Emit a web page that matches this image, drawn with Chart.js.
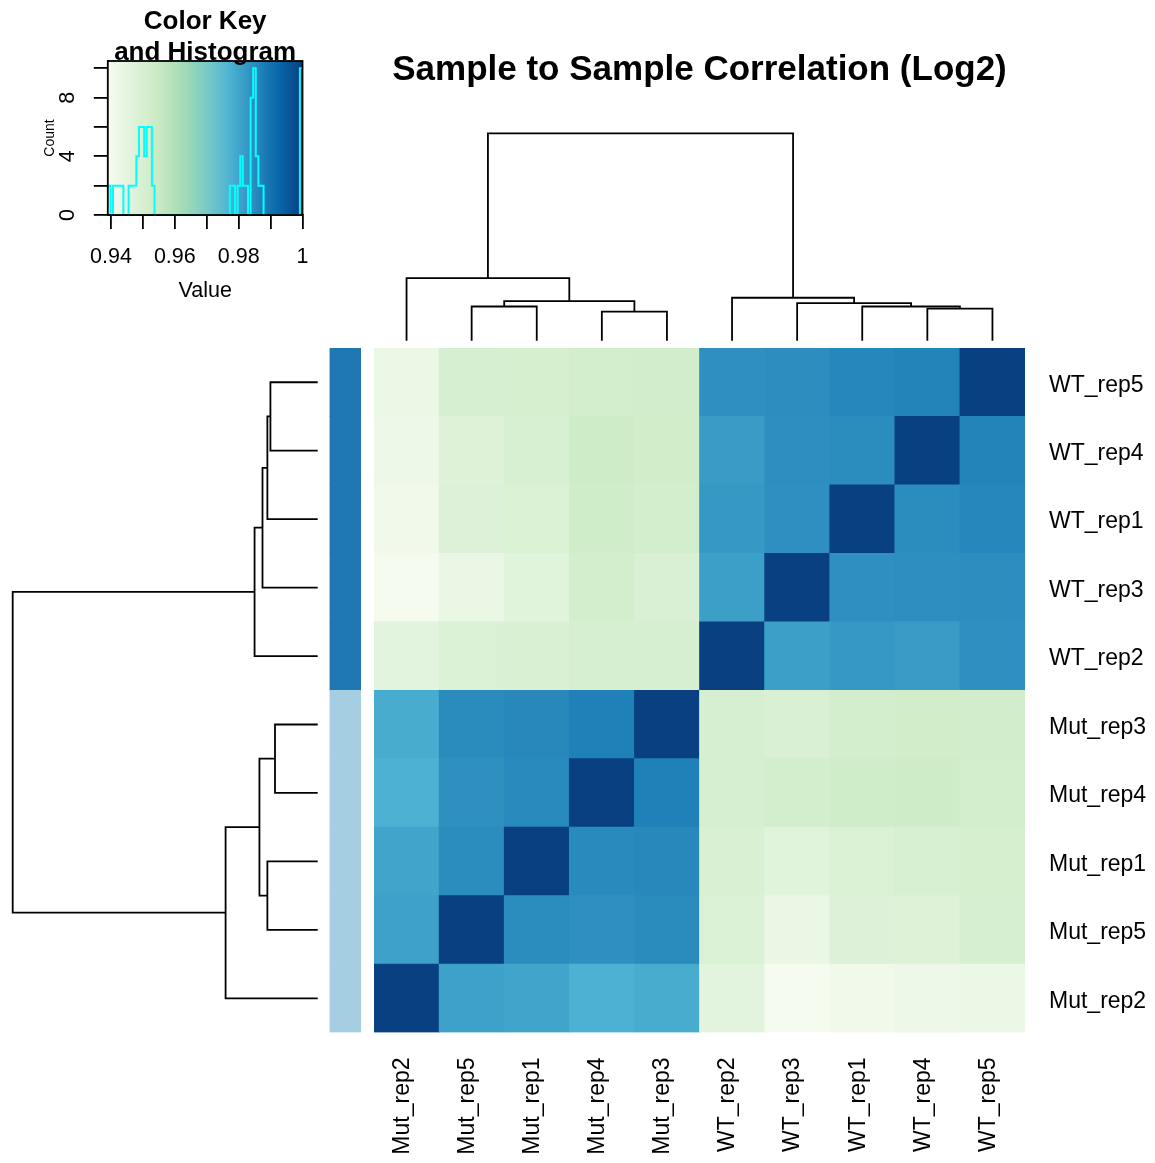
<!DOCTYPE html>
<html>
<head>
<meta charset="utf-8">
<title>Sample to Sample Correlation (Log2)</title>
<script src="https://cdn.jsdelivr.net/npm/chart.js@4.4.1/dist/chart.umd.min.js"></script>
<style>
  html, body { margin: 0; padding: 0; background: #ffffff; }
  #wrap { position: relative; width: 1155px; height: 1163px; overflow: hidden; background: #ffffff; }
  #wrap canvas { position: absolute; left: 0; top: 0; }
</style>
</head>
<body>
<div id="wrap">
  <canvas id="keyChart" width="1155" height="1163"></canvas>
  <canvas id="colDendro" width="1155" height="1163"></canvas>
  <canvas id="rowDendro" width="1155" height="1163"></canvas>
  <canvas id="sideBar" width="1155" height="1163"></canvas>
  <canvas id="heatmap" width="1155" height="1163"></canvas>
</div>
<script>
// Samples in clustered order: columns left to right, rows bottom to top
const samples = ['Mut_rep2', 'Mut_rep5', 'Mut_rep1', 'Mut_rep4', 'Mut_rep3',
                 'WT_rep2', 'WT_rep3', 'WT_rep1', 'WT_rep4', 'WT_rep5'];
const sampleGroup = ['Mut', 'Mut', 'Mut', 'Mut', 'Mut', 'WT', 'WT', 'WT', 'WT', 'WT'];
const groupColors = { Mut: '#a6cee3', WT: '#1f78b4' };

// Pearson correlation of log2 expression, one row per sample (same column order)
const corMut_rep2 = [1.0000, 0.9807, 0.9800, 0.9775, 0.9785, 0.9459, 0.9395, 0.9410, 0.9420, 0.9427];
const corMut_rep5 = [0.9807, 1.0000, 0.9848, 0.9839, 0.9850, 0.9484, 0.9433, 0.9481, 0.9475, 0.9500];
const corMut_rep1 = [0.9800, 0.9848, 1.0000, 0.9851, 0.9855, 0.9494, 0.9467, 0.9490, 0.9498, 0.9509];
const corMut_rep4 = [0.9775, 0.9839, 0.9851, 1.0000, 0.9872, 0.9502, 0.9516, 0.9526, 0.9532, 0.9518];
const corMut_rep3 = [0.9785, 0.9850, 0.9855, 0.9872, 1.0000, 0.9506, 0.9491, 0.9514, 0.9524, 0.9523];
const corWT_rep2  = [0.9459, 0.9484, 0.9494, 0.9502, 0.9506, 1.0000, 0.9810, 0.9824, 0.9818, 0.9841];
const corWT_rep3  = [0.9395, 0.9433, 0.9467, 0.9516, 0.9491, 0.9810, 1.0000, 0.9842, 0.9844, 0.9846];
const corWT_rep1  = [0.9410, 0.9481, 0.9490, 0.9526, 0.9514, 0.9824, 0.9842, 1.0000, 0.9847, 0.9858];
const corWT_rep4  = [0.9420, 0.9475, 0.9498, 0.9532, 0.9524, 0.9818, 0.9844, 0.9847, 1.0000, 0.9865];
const corWT_rep5  = [0.9427, 0.9500, 0.9509, 0.9518, 0.9523, 0.9841, 0.9846, 0.9858, 0.9865, 1.0000];
const correlation = [corMut_rep2, corMut_rep5, corMut_rep1, corMut_rep4, corMut_rep3,
                     corWT_rep2, corWT_rep3, corWT_rep1, corWT_rep4, corWT_rep5];

// Hierarchical clustering (hclust-style merges: negative = leaf number, positive = earlier merge)
const mergeLeft   = [-4, -9, -2, -8, -7, 3, -6, -1, 8];
const mergeRight  = [-5, -10, -3, 2, 4, 1, 5, 6, 7];
const mergeHeight = [0.140, 0.155, 0.165, 0.165, 0.181, 0.191, 0.207, 0.302, 1.000];

// Colour key
const gnbu = ['#f7fcf0', '#e0f3db', '#ccebc5', '#a8ddb5', '#7bccc4', '#4eb3d3', '#2b8cbe', '#0868ac', '#084081'];
const keyMin = 0.939;
const keyMax = 1.0;
const keyBins = 75;
const keyTicks = [0.94, 0.95, 0.96, 0.97, 0.98, 0.99, 1.00];
const keyLabelled = [0.94, 0.96, 0.98, 1.00];
const countTicks = [0, 2, 4, 6, 8, 10];
const countLabelled = [0, 4, 8];

const FONT = '"Liberation Sans", Arial, Helvetica, sans-serif';
Chart.defaults.font.family = FONT;
Chart.defaults.color = '#000000';

function hexToRgb(h) {
  return [parseInt(h.slice(1, 3), 16), parseInt(h.slice(3, 5), 16), parseInt(h.slice(5, 7), 16)];
}
function valueColor(v) {
  const t = Math.min(1, Math.max(0, (v - keyMin) / (keyMax - keyMin))) * (gnbu.length - 1);
  const i = Math.min(gnbu.length - 2, Math.floor(t));
  const f = t - i;
  const a = hexToRgb(gnbu[i]), b = hexToRgb(gnbu[i + 1]);
  const c = a.map((x, k) => Math.round(x + (b[k] - x) * f));
  return 'rgb(' + c.join(',') + ')';
}

// ---------- Colour key with histogram ----------
const binWidth = (keyMax - keyMin) / keyBins;
const keyBreaks = Array.from({ length: keyBins + 1 }, (_, i) => keyMin + i * binWidth);
const binCounts = new Array(keyBins).fill(0);
correlation.forEach(row => row.forEach(v => {
  const idx = Math.min(keyBins - 1, Math.max(0, Math.floor((v - keyMin) / binWidth)));
  binCounts[idx] += 1;
}));
const histPoints = keyBreaks.map((x, i) => ({ x: x, y: binCounts[Math.min(i, keyBins - 1)] }));

const keyPlugin = {
  id: 'keyDecor',
  beforeDatasetsDraw(chart) {
    const { ctx, chartArea: a, scales } = chart;
    const g = ctx.createLinearGradient(scales.x.getPixelForValue(keyMin), 0, scales.x.getPixelForValue(keyMax), 0);
    gnbu.forEach((c, i) => g.addColorStop(i / (gnbu.length - 1), c));
    ctx.save();
    ctx.fillStyle = g;
    ctx.fillRect(a.left, a.top, a.right - a.left, a.bottom - a.top);
    ctx.restore();
  },
  afterDraw(chart) {
    const { ctx, chartArea: a } = chart;
    ctx.save();
    ctx.strokeStyle = '#000000';
    ctx.lineWidth = 1.8;
    ctx.strokeRect(a.left, a.top, a.right - a.left, a.bottom - a.top);
    const cx = (a.left + a.right) / 2;
    ctx.fillStyle = '#000000';
    ctx.font = 'bold 26px ' + FONT;
    ctx.textAlign = 'center';
    ctx.textBaseline = 'middle';
    ctx.fillText('Color Key', cx, a.top - 39);
    ctx.fillText('and Histogram', cx, a.top - 8);
    ctx.restore();
  }
};

new Chart(document.getElementById('keyChart'), {
  type: 'line',
  data: {
    datasets: [{
      data: histPoints,
      stepped: 'before',
      borderColor: '#00ffff',
      borderWidth: 2,
      pointRadius: 0,
      fill: false
    }]
  },
  options: {
    responsive: false,
    animation: false,
    layout: { padding: { left: 0, top: 61, right: 852.5, bottom: 843 } },
    plugins: { legend: { display: false }, tooltip: { enabled: false } },
    scales: {
      x: {
        type: 'linear', min: keyMin, max: keyMax,
        afterBuildTicks: s => { s.ticks = keyTicks.map(v => ({ value: v })); },
        afterFit: s => { s.height = 105; },
        grid: { drawOnChartArea: false, tickLength: 14, color: '#000000', lineWidth: 1.8 },
        border: { display: true, color: '#000000', width: 1.8 },
        ticks: {
          autoSkip: false, maxRotation: 0, padding: 15.4, color: '#000000', font: { size: 21.5 },
          callback: v => keyLabelled.includes(v) ? (v === 1 ? '1' : v.toFixed(2)) : ''
        },
        title: { display: true, text: 'Value', color: '#000000', font: { size: 21.5 }, padding: { top: 0, bottom: 15.6 } }
      },
      y: {
        type: 'linear', min: 0, max: 10.5,
        afterBuildTicks: s => { s.ticks = countTicks.map(v => ({ value: v })); },
        afterFit: s => { s.width = 107.8; },
        grid: { drawOnChartArea: false, tickLength: 14, color: '#000000', lineWidth: 1.8 },
        border: { display: true, color: '#000000', width: 1.8 },
        ticks: {
          autoSkip: false, minRotation: 90, maxRotation: 90, crossAlign: 'center', padding: 19.3,
          color: '#000000', font: { size: 21.5 },
          callback: v => countLabelled.includes(v) ? String(v) : ''
        },
        title: { display: true, text: 'Count', color: '#000000', font: { size: 14 }, padding: { top: 41.6, bottom: 0 } }
      }
    }
  },
  plugins: [keyPlugin]
});

// ---------- Dendrograms ----------
function dendrogramBranches() {
  const pos = [], hgt = [];
  const nodePos = k => (k < 0 ? -k - 1 : pos[k - 1]);
  const nodeH = k => (k < 0 ? 0 : hgt[k - 1]);
  const branches = [];
  for (let m = 0; m < mergeHeight.length; m++) {
    const a = mergeLeft[m], b = mergeRight[m], h = mergeHeight[m];
    const pa = nodePos(a), pb = nodePos(b);
    branches.push([[pa, nodeH(a)], [pa, h], [pb, h], [pb, nodeH(b)]]);
    pos.push((pa + pb) / 2);
    hgt.push(h);
  }
  return branches;
}
const branches = dendrogramBranches();
const branchStyle = { showLine: true, borderColor: '#000000', borderWidth: 1.8, pointRadius: 0, fill: false, clip: false, tension: 0 };

new Chart(document.getElementById('colDendro'), {
  type: 'scatter',
  data: { datasets: branches.map(b => Object.assign({ data: b.map(p => ({ x: p[0], y: p[1] })) }, branchStyle)) },
  options: {
    responsive: false,
    animation: false,
    layout: { padding: { left: 374, right: 130, top: 0, bottom: 822.3 } },
    plugins: {
      legend: { display: false }, tooltip: { enabled: false },
      title: {
        display: true, text: 'Sample to Sample Correlation (Log2)', color: '#000000',
        font: { size: 35, weight: 'bold' }, padding: { top: 49, bottom: 42.3 }
      }
    },
    scales: {
      x: { type: 'linear', min: -0.5, max: 9.5, display: false },
      y: { type: 'linear', min: 0, max: 1, display: false }
    }
  }
});

new Chart(document.getElementById('rowDendro'), {
  type: 'scatter',
  data: { datasets: branches.map(b => Object.assign({ data: b.map(p => ({ x: p[1], y: p[0] })) }, branchStyle)) },
  options: {
    responsive: false,
    animation: false,
    layout: { padding: { left: 12.7, right: 837.3, top: 348, bottom: 130.5 } },
    plugins: { legend: { display: false }, tooltip: { enabled: false } },
    scales: {
      x: { type: 'linear', min: 0, max: 1, reverse: true, display: false },
      y: { type: 'linear', min: -0.5, max: 9.5, display: false }
    }
  }
});

// ---------- Row side colours ----------
new Chart(document.getElementById('sideBar'), {
  type: 'bar',
  data: {
    labels: ['group'],
    datasets: samples.map((s, i) => ({
      label: s, data: [1], backgroundColor: groupColors[sampleGroup[i]],
      borderWidth: 0, barPercentage: 1, categoryPercentage: 1
    }))
  },
  options: {
    responsive: false,
    animation: false,
    layout: { padding: { left: 329.5, right: 794, top: 348, bottom: 130.5 } },
    plugins: { legend: { display: false }, tooltip: { enabled: false } },
    scales: {
      x: { stacked: true, display: false },
      y: { stacked: true, min: 0, max: samples.length, display: false }
    }
  }
});

// ---------- Heatmap ----------
new Chart(document.getElementById('heatmap'), {
  type: 'bar',
  data: {
    labels: samples,
    datasets: samples.map((rowName, r) => ({
      label: rowName,
      data: samples.map(() => 1),
      backgroundColor: correlation[r].map(valueColor),
      borderWidth: 0, barPercentage: 1, categoryPercentage: 1
    }))
  },
  options: {
    responsive: false,
    animation: false,
    layout: { padding: { left: 374, right: 0, top: 348, bottom: 0 } },
    plugins: { legend: { display: false }, tooltip: { enabled: false } },
    scales: {
      x: {
        stacked: true,
        grid: { display: false, drawTicks: false }, border: { display: false },
        ticks: { autoSkip: false, minRotation: 90, maxRotation: 90, padding: 25, labelOffset: -4, color: '#000000', font: { size: 23 } },
        afterFit: s => { s.height = 130.5; }
      },
      y: { stacked: true, min: 0, max: samples.length, display: false },
      y2: {
        type: 'category', position: 'right', labels: samples.slice().reverse(), offset: true,
        grid: { display: false, drawTicks: false }, border: { display: false },
        ticks: { autoSkip: false, padding: 24, labelOffset: 3, color: '#000000', font: { size: 23 } },
        afterFit: s => { s.width = 130; }
      }
    }
  }
});
</script>
</body>
</html>
